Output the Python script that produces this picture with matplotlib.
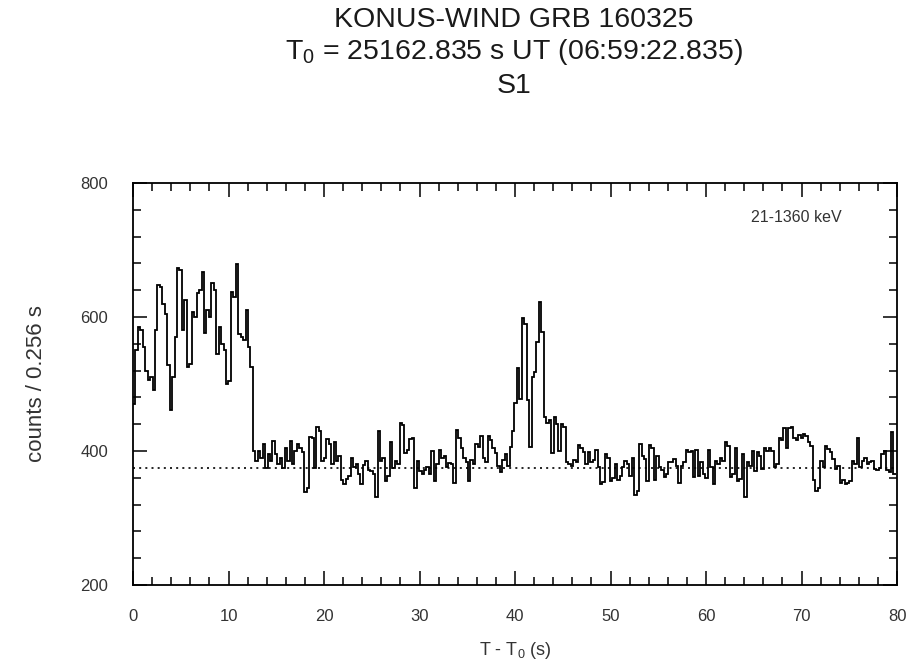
import numpy as np
import matplotlib
matplotlib.use("Agg")
import matplotlib.pyplot as plt
from matplotlib.ticker import MultipleLocator

plt.rcParams['font.family'] = ['Liberation Sans', 'DejaVu Sans']
plt.rcParams['mathtext.fontset'] = 'custom'
plt.rcParams['mathtext.rm'] = 'Liberation Sans'
plt.rcParams['mathtext.it'] = 'Liberation Sans'

# light curve, counts per 0.256 s bin starting at T0
bin_width = 0.256
counts = [
    470, 550, 585, 580, 555, 520, 506, 510, 491, 580,
    648, 645, 620, 605, 528, 461, 510, 570, 673, 670,
    580, 625, 525, 530, 607, 600, 635, 640, 667, 576,
    610, 600, 650, 640, 545, 585, 560, 550, 500, 505,
    637, 630, 679, 575, 570, 565, 610, 555, 525, 400,
    385, 400, 390, 410, 375, 395, 385, 415, 395, 380,
    390, 375, 405, 385, 415, 380, 400, 410, 404, 398,
    339, 345, 421, 420, 375, 436, 430, 385, 390, 418,
    410, 380, 414, 385, 392, 356, 350, 358, 362, 390,
    376, 381, 366, 350, 379, 385, 372, 370, 366, 331,
    430, 385, 390, 355, 362, 414, 374, 385, 380, 442,
    438, 397, 402, 418, 420, 345, 385, 370, 366, 372,
    376, 365, 400, 355, 380, 401, 390, 392, 376, 382,
    380, 352, 431, 420, 405, 390, 383, 355, 386, 380,
    410, 406, 422, 390, 383, 422, 416, 405, 397, 378,
    368, 387, 395, 378, 406, 430, 471, 524, 478, 598,
    590, 476, 406, 510, 518, 563, 622, 578, 451, 442,
    446, 397, 451, 440, 400, 440, 436, 383, 380, 378,
    387, 384, 409, 404, 398, 380, 398, 383, 386, 402,
    376, 350, 354, 395, 390, 355, 360, 380, 357, 362,
    376, 385, 380, 362, 390, 334, 340, 411, 393, 388,
    355, 409, 404, 357, 393, 376, 372, 361, 365, 383,
    383, 388, 378, 352, 378, 383, 402, 398, 400, 361,
    402, 363, 383, 366, 360, 402, 376, 350, 385, 380,
    390, 385, 413, 408, 361, 366, 405, 355, 358, 395,
    331, 383, 378, 400, 370, 398, 393, 373, 405, 400,
    405, 400, 376, 380, 420, 416, 434, 405, 434, 436,
    420, 417, 424, 420, 426, 422, 413, 408, 356, 340,
    344, 385, 376, 407, 403, 398, 388, 373, 377, 352,
    356, 350, 352, 355, 385, 381, 420, 376, 385, 389,
    380, 384, 385, 373, 371, 375, 395, 400, 371, 368,
    428, 365,
]
background = 375
energy_band = "21-1360 keV"

edges = np.arange(len(counts) + 1) * bin_width

fig = plt.figure(figsize=(9.22, 6.69), dpi=100)
ax = fig.add_axes([0.1443, 0.1256, 0.8287, 0.601])

ax.stairs(counts, edges, baseline=None, color="black", lw=1.3)
ax.axhline(background, color="black", ls=(0, (1.2, 2.5)), lw=1.2)

ax.set_xlim(0, 80)
ax.set_ylim(200, 800)
ax.xaxis.set_major_locator(MultipleLocator(10))
ax.xaxis.set_minor_locator(MultipleLocator(2))
ax.yaxis.set_major_locator(MultipleLocator(200))
ax.yaxis.set_minor_locator(MultipleLocator(40))
ax.tick_params(which="both", direction="in", top=True, right=True,
               labelsize=12, labelcolor="#333333", width=1.1)
ax.tick_params(which="major", length=10)
ax.tick_params(which="minor", length=6)
ax.tick_params(axis="x", pad=17)
ax.tick_params(axis="y", pad=18)
for s in ax.spines.values():
    s.set_linewidth(1.3)

ax.set_xlabel(r"T - T$_{\rm 0}$ (s)", fontsize=13, color="#333333", labelpad=12)
ax.set_ylabel("counts / 0.256 s", fontsize=16, color="#333333", labelpad=24)
ax.text(0.928, 0.913, energy_band, transform=ax.transAxes, ha="right",
        va="center", fontsize=11.5, color="#333333")

fig.text(0.557, 0.970, "KONUS-WIND GRB 160325", ha="center", va="center",
         fontsize=20.5, color="#1a1a1a")
fig.text(0.557, 0.922, r"T$_{\rm 0}$ = 25162.835 s UT (06:59:22.835)",
         ha="center", va="center", fontsize=20.5, color="#1a1a1a")
fig.text(0.557, 0.871, "S1", ha="center", va="center", fontsize=20.5,
         color="#1a1a1a")

fig.savefig("out.png", dpi=100)
